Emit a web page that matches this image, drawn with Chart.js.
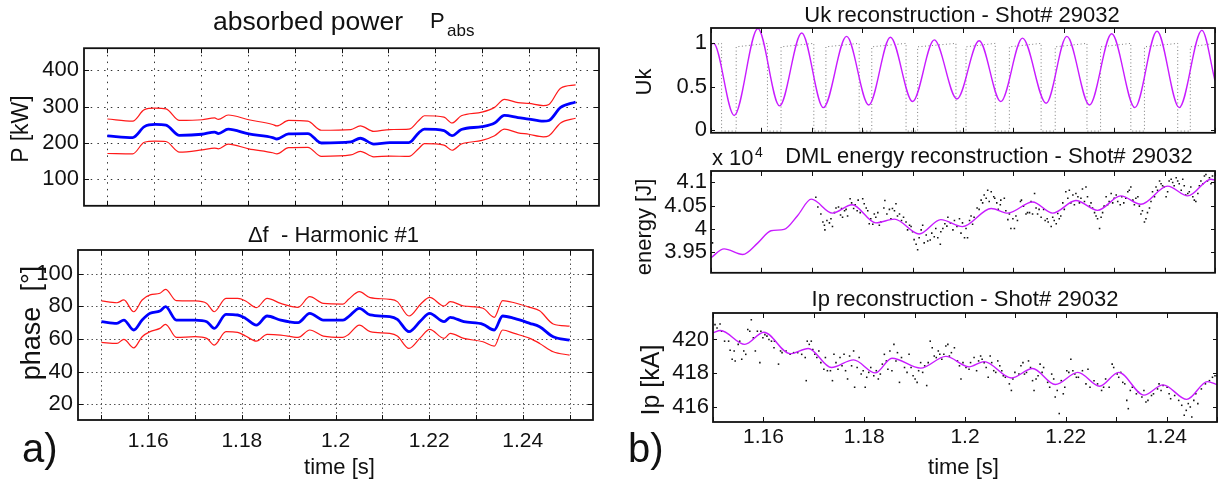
<!DOCTYPE html>
<html>
<head>
<meta charset="utf-8">
<script src="https://cdn.jsdelivr.net/npm/chart.js@4.4.1/dist/chart.umd.min.js"></script>
<style>
  html, body { margin: 0; padding: 0; background: #fff; }
  body { width: 1224px; height: 483px; position: relative; overflow: hidden;
         font-family: "Liberation Sans", Arial, sans-serif; color: #111; }
  canvas { position: absolute; }
  .txt { position: absolute; line-height: 1; white-space: nowrap; }
  .c { transform: translateX(-50%); }
  .rot { position: absolute; line-height: 1; white-space: nowrap; transform: translate(-50%, -50%) rotate(-90deg); }
</style>
</head>
<body>
<canvas id="power" width="612" height="194" style="left:0;top:30px"></canvas>
<canvas id="phase" width="612" height="244" style="left:0;top:226px"></canvas>
<canvas id="uk" width="609" height="140" style="left:615px;top:10px"></canvas>
<canvas id="energy" width="609" height="140" style="left:615px;top:150px"></canvas>
<canvas id="ip" width="609" height="170" style="left:615px;top:292px"></canvas>

<div class="txt" style="left:213px;top:7.6px;font-size:26.5px">absorbed power</div>
<div class="txt" style="left:430px;top:10.4px;font-size:22px">P</div>
<div class="txt" style="left:447px;top:21.6px;font-size:17px">abs</div>
<div class="txt c" style="left:333.5px;top:224.4px;font-size:22px">&Delta;f&nbsp;&nbsp;- Harmonic #1</div>
<div class="txt c" style="left:339.5px;top:456.4px;font-size:22px">time [s]</div>
<div class="txt" style="left:22px;top:428px;font-size:40px">a)</div>
<div class="rot" style="left:19.5px;top:129px;font-size:23px">P [kW]</div>
<div class="rot" style="left:31px;top:323px;font-size:27px">phase&nbsp;&nbsp;[&deg;]</div>

<div class="txt c" style="left:962px;top:4.4px;font-size:22px">Uk reconstruction - Shot# 29032</div>
<div class="txt" style="left:712px;top:147.4px;font-size:22px">x 10</div>
<div class="txt" style="left:755px;top:145px;font-size:14px">4</div>
<div class="txt c" style="left:989px;top:145.4px;font-size:22px">DML energy reconstruction - Shot# 29032</div>
<div class="txt c" style="left:965px;top:288.4px;font-size:22px">Ip reconstruction - Shot# 29032</div>
<div class="txt c" style="left:963.5px;top:456.4px;font-size:22px">time [s]</div>
<div class="txt" style="left:628px;top:428px;font-size:40px">b)</div>
<div class="rot" style="left:644px;top:81.5px;font-size:22px">Uk</div>
<div class="rot" style="left:644px;top:226.5px;font-size:22px">energy [J]</div>
<div class="rot" style="left:650px;top:380px;font-size:25px">Ip [kA]</div>

<script>
// ---- tick values ----
const timeTicks = [1.15, 1.16, 1.17, 1.18, 1.19, 1.2, 1.21, 1.22, 1.23, 1.24, 1.25];
const timeLabels = [1.16, 1.18, 1.2, 1.22, 1.24];
const powerTicks = [100, 200, 300, 400];
const phaseTicks = [20, 40, 60, 80, 100];
const ukTicks = [0, 0.5, 1];
const energyTicks = [3.95, 4, 4.05, 4.1];
const ipTicks = [416, 418, 420];

// ---- a) absorbed power [kW] ----
const powerTime  = [1.1500, 1.1554, 1.1579, 1.1602, 1.1625, 1.1654, 1.1702, 1.1729, 1.1737, 1.1758, 1.1802, 1.1853, 1.1862, 1.1887, 1.1928, 1.1957, 1.2020, 1.2040, 1.2069, 1.2103, 1.2144, 1.2165, 1.2177, 1.2219, 1.2236, 1.2256, 1.2300, 1.2327, 1.2348, 1.2377, 1.2400, 1.2431, 1.2443, 1.2468, 1.2500];
const powerMid   = [219.5, 215, 245, 251, 249, 221, 224, 230, 226, 238, 225, 215, 211, 225, 226, 200, 203, 213, 197, 201, 201, 228, 238, 234, 220, 237, 245, 255, 276, 270, 266, 260, 262, 298, 313];
const powerUpper = [266, 260, 292, 296, 294, 262, 264, 269, 265, 277, 264, 251, 247, 262, 260, 235, 237, 247, 232, 237, 238, 262, 275, 271, 255, 275, 285, 298, 320, 311, 309, 303, 306, 351, 360];
const powerLower = [171, 170, 202, 205, 204, 175, 181, 186, 184, 197, 184, 173, 170, 187, 188, 163, 167, 177, 162, 164, 163, 185, 198, 194, 180, 197, 207, 220, 238, 228, 224, 217, 220, 255, 268];

// ---- a) phase, harmonic #1 [deg] ----
const phaseTime  = [1.1500, 1.1533, 1.1548, 1.1569, 1.1587, 1.1604, 1.1625, 1.1637, 1.1660, 1.1700, 1.1725, 1.1741, 1.1766, 1.1791, 1.1808, 1.1831, 1.1854, 1.1883, 1.1920, 1.1945, 1.1974, 1.2016, 1.2028, 1.2051, 1.2074, 1.2116, 1.2132, 1.2157, 1.2182, 1.2201, 1.2232, 1.2245, 1.2274, 1.2315, 1.2339, 1.2357, 1.2382, 1.2415, 1.2436, 1.2465, 1.2500];
const phaseMid   = [70.6, 69.6, 71.6, 65.5, 71.6, 75.7, 77.1, 79.8, 71.6, 71.6, 70.6, 66.5, 75.1, 74.7, 72.6, 68.5, 74.1, 71.6, 70.0, 75.7, 71.6, 71.6, 73.7, 78.8, 74.7, 73.7, 72.0, 64.5, 71.2, 75.7, 70.6, 73.3, 70.6, 69.0, 65.5, 74.1, 72.6, 69.6, 67.5, 61.4, 59.3];
const phaseUpper = [83.3, 82.2, 83.9, 76.7, 83.9, 87.0, 88.0, 90.4, 83.5, 83.3, 81.8, 76.7, 84.9, 84.9, 83.3, 79.2, 84.9, 81.8, 79.4, 85.9, 81.8, 81.4, 84.3, 89.0, 85.3, 84.3, 82.9, 74.1, 81.4, 85.5, 80.2, 82.9, 80.2, 78.8, 73.3, 83.5, 82.2, 79.4, 77.3, 69.2, 67.9];
const phaseLower = [57.9, 57.3, 59.8, 54.6, 61.4, 64.5, 66.5, 69.0, 61.0, 61.4, 60.4, 56.3, 64.5, 64.1, 61.8, 58.7, 62.8, 62.4, 61.0, 65.5, 61.8, 61.0, 62.8, 68.5, 64.5, 63.4, 61.8, 54.2, 61.0, 65.9, 60.4, 63.4, 60.4, 58.3, 55.6, 65.5, 63.4, 60.4, 57.3, 52.2, 50.1];

// ---- b) Uk reconstruction ----
const ukTime  = [1.1500, 1.1505, 1.1546, 1.1593, 1.1636, 1.1680, 1.1723, 1.1769, 1.1813, 1.1856, 1.1900, 1.1943, 1.1988, 1.2032, 1.2075, 1.2118, 1.2165, 1.2206, 1.2251, 1.2295, 1.2341, 1.2385, 1.2429, 1.2474, 1.2500];
const ukValue = [0.99, 1.00, 0.17, 1.17, 0.28, 1.12, 0.26, 1.08, 0.29, 1.07, 0.33, 1.04, 0.36, 1.03, 0.33, 1.06, 0.31, 1.08, 0.29, 1.11, 0.26, 1.14, 0.26, 1.15, 0.57];
// measured Uk (dotted, switching signal)
const ukRawTime = [1.1500,
  1.1521, 1.1521, 1.1550, 1.1550,
  1.1612, 1.1612, 1.1639, 1.1639,
  1.1704, 1.1704, 1.1728, 1.1728,
  1.1794, 1.1794, 1.1819, 1.1819,
  1.1887, 1.1887, 1.1910, 1.1910,
  1.1986, 1.1986, 1.2006, 1.2006,
  1.2064, 1.2064, 1.2092, 1.2092,
  1.2155, 1.2155, 1.2183, 1.2183,
  1.2246, 1.2246, 1.2273, 1.2273,
  1.2333, 1.2333, 1.2360, 1.2360,
  1.2426, 1.2426, 1.2451, 1.2451,
  1.2500];
const ukRawValue = [0.98,
  1.0, -0.01, -0.01, 0.96,
  1.0, -0.01, -0.01, 0.96,
  1.0, -0.01, -0.01, 0.96,
  1.0, -0.01, -0.01, 0.96,
  1.0, -0.01, -0.01, 0.96,
  1.0, -0.01, -0.01, 0.96,
  1.0, -0.01, -0.01, 0.96,
  1.0, -0.01, -0.01, 0.96,
  1.0, -0.01, -0.01, 0.96,
  1.0, -0.01, -0.01, 0.96,
  1.0, -0.01, -0.01, 0.96,
  1.0];

// ---- b) DML energy [x 10^4 J] ----
const energyTime  = [1.1500, 1.1526, 1.1563, 1.1593, 1.1619, 1.1645, 1.1672, 1.1699, 1.1741, 1.1780, 1.1827, 1.1864, 1.1913, 1.1956, 1.1999, 1.2056, 1.2089, 1.2138, 1.2178, 1.2224, 1.2267, 1.2313, 1.2353, 1.2406, 1.2446, 1.2492, 1.2500];
const energyValue = [3.938, 3.957, 3.945, 3.970, 3.996, 3.999, 4.029, 4.064, 4.034, 4.052, 4.013, 4.021, 3.989, 4.020, 4.005, 4.044, 4.034, 4.058, 4.034, 4.061, 4.040, 4.071, 4.053, 4.092, 4.071, 4.107, 4.105];
const energyDotTime = [1.1503,
  1.1708, 1.1712, 1.1718, 1.1722, 1.1725, 1.1726, 1.1730, 1.1735, 1.1738, 1.1741, 1.1745, 1.1748, 1.1753, 1.1757, 1.1759,
  1.1761, 1.1765, 1.1768, 1.1771, 1.1776, 1.1779, 1.1783, 1.1786, 1.1790, 1.1792, 1.1796, 1.1801, 1.1804, 1.1808, 1.1811,
  1.1814, 1.1817, 1.1821, 1.1824, 1.1827, 1.1831, 1.1834, 1.1837, 1.1843, 1.1845, 1.1849, 1.1854, 1.1857, 1.1860, 1.1864,
  1.1867, 1.1870, 1.1874, 1.1878, 1.1882, 1.1887, 1.1890, 1.1894, 1.1897, 1.1900, 1.1903, 1.1907, 1.1910, 1.1913, 1.1917,
  1.1920, 1.1923, 1.1927, 1.1930, 1.1935, 1.1938, 1.1943, 1.1946, 1.1950, 1.1955, 1.1956, 1.1960, 1.1964, 1.1968, 1.1970,
  1.1975, 1.1980, 1.1983, 1.1988, 1.1993, 1.1996, 1.1999, 1.2003, 1.2006, 1.2009, 1.2013, 1.2016, 1.2019, 1.2022,
  1.2028, 1.2032, 1.2036, 1.2039, 1.2042, 1.2046, 1.2049, 1.2052, 1.2056, 1.2061, 1.2063, 1.2067, 1.2070, 1.2074, 1.2075,
  1.2082, 1.2085, 1.2089, 1.2092, 1.2095, 1.2099, 1.2102, 1.2105, 1.2108, 1.2114, 1.2116, 1.2120, 1.2125, 1.2128,
  1.2132, 1.2135, 1.2138, 1.2142, 1.2145, 1.2148, 1.2151, 1.2155, 1.2160, 1.2163, 1.2167, 1.2169, 1.2175, 1.2178, 1.2181,
  1.2185, 1.2188, 1.2191, 1.2194, 1.2198, 1.2201, 1.2204, 1.2208, 1.2211, 1.2214, 1.2218, 1.2221, 1.2224, 1.2228, 1.2231, 1.2234,
  1.2237, 1.2241, 1.2244, 1.2247, 1.2251, 1.2254, 1.2257, 1.2261, 1.2264, 1.2267, 1.2271, 1.2274, 1.2277, 1.2280, 1.2284, 1.2287,
  1.2290, 1.2294, 1.2297, 1.2300, 1.2304, 1.2307, 1.2312, 1.2315, 1.2319, 1.2323, 1.2327, 1.2330, 1.2333, 1.2337, 1.2340,
  1.2343, 1.2347, 1.2350, 1.2353, 1.2356, 1.2360, 1.2363, 1.2366, 1.2370, 1.2373, 1.2376, 1.2380, 1.2383, 1.2386, 1.2390, 1.2393,
  1.2396, 1.2399, 1.2403, 1.2406, 1.2409, 1.2413, 1.2416, 1.2419, 1.2423, 1.2426, 1.2429, 1.2433, 1.2436, 1.2439, 1.2442, 1.2446,
  1.2449, 1.2452, 1.2456, 1.2459, 1.2462, 1.2466, 1.2469, 1.2472, 1.2476, 1.2479, 1.2482, 1.2485, 1.2489, 1.2492, 1.2495, 1.2499];
const energyDotValue = [3.970,
  4.068, 4.047, 4.032, 4.015, 4.008, 3.998, 4.018, 4.013, 4.022, 4.005, 4.035, 4.045, 4.047, 4.030, 4.044,
  4.025, 4.039, 4.042, 4.028, 4.065, 4.056, 4.044, 4.052, 4.039, 4.062, 4.035, 4.065, 4.054, 4.045, 4.039,
  4.011, 4.022, 4.010, 4.032, 4.025, 4.035, 4.008, 4.015, 4.045, 4.061, 4.032, 4.042, 4.022, 4.044, 4.039,
  4.054, 4.028, 4.032, 4.018, 4.025, 4.015, 3.998, 4.008, 4.005, 3.994, 3.977, 3.967, 3.955, 3.981, 3.998,
  4.008, 3.970, 3.987, 3.974, 3.976, 3.991, 3.983, 4.001, 3.981, 3.967, 3.994, 4.001, 4.011, 4.006, 4.025,
  4.013, 3.998, 4.018, 4.005, 4.022, 3.991, 4.013, 3.981, 4.001, 3.981, 4.018, 4.028, 4.010, 4.025,
  4.045, 4.042, 4.062, 4.056, 4.073, 4.066, 4.083, 4.059, 4.080, 4.069, 4.066, 4.056, 4.042, 4.052, 4.062,
  4.066, 4.039, 4.020, 4.032, 4.001, 4.022, 4.001, 4.028, 4.018, 4.059, 4.062, 4.049, 4.032, 4.035,
  4.035, 4.059, 4.032, 4.076, 4.045, 4.032, 4.042, 4.025, 4.042, 4.018, 4.022, 4.015, 4.005, 4.025, 4.018,
  4.011, 4.033, 4.022, 4.028, 4.056, 4.042, 4.080, 4.066, 4.083, 4.056, 4.073, 4.052, 4.076, 4.069, 4.056, 4.066,
  4.086, 4.059, 4.090, 4.069, 4.049, 4.056, 4.045, 4.035, 4.028, 4.022, 4.001, 4.025, 4.035, 4.049, 4.069, 4.052,
  4.059, 4.076, 4.056, 4.066, 4.073, 4.059, 4.052, 4.069, 4.056, 4.066, 4.080, 4.083, 4.090, 4.062, 4.052,
  4.066, 4.069, 4.049, 4.032, 4.039, 4.015, 4.022, 4.035, 4.045, 4.059, 4.080, 4.069, 4.090, 4.083, 4.103, 4.097,
  4.093, 4.090, 4.069, 4.080, 4.103, 4.107, 4.100, 4.093, 4.110, 4.103, 4.097, 4.083, 4.107, 4.093, 4.073, 4.076,
  4.080, 4.090, 4.069, 4.062, 4.059, 4.076, 4.093, 4.103, 4.097, 4.114, 4.117, 4.103, 4.110, 4.097, 4.114, 4.100];

// ---- b) plasma current Ip [kA] ----
const ipTime  = [1.1500, 1.1515, 1.1563, 1.1601, 1.1653, 1.1689, 1.1735, 1.1779, 1.1822, 1.1855, 1.1912, 1.1962, 1.2008, 1.2038, 1.2092, 1.2134, 1.2179, 1.2224, 1.2267, 1.2305, 1.2355, 1.2393, 1.2440, 1.2481, 1.2500];
const ipValue = [420.39, 420.53, 419.71, 420.43, 419.16, 419.47, 418.34, 418.79, 418.02, 418.89, 418.30, 419.00, 418.38, 418.69, 417.72, 418.28, 417.33, 418.05, 417.23, 418.05, 416.70, 417.31, 416.45, 417.50, 417.33];
const ipDotTime = [
  1.1504, 1.1508, 1.1514, 1.1517, 1.1523, 1.1531, 1.1534, 1.1538, 1.1542, 1.1544, 1.1550, 1.1553, 1.1557, 1.1561, 1.1565,
  1.1569, 1.1573, 1.1576, 1.1580, 1.1584, 1.1588, 1.1593, 1.1595, 1.1599, 1.1603, 1.1607, 1.1611, 1.1616, 1.1621, 1.1622,
  1.1630, 1.1634, 1.1637, 1.1645, 1.1653, 1.1660, 1.1668, 1.1676, 1.1683, 1.1685, 1.1687, 1.1691, 1.1695, 1.1698, 1.1702,
  1.1706, 1.1710, 1.1714, 1.1720, 1.1723, 1.1727, 1.1733, 1.1737, 1.1740, 1.1744, 1.1748, 1.1752, 1.1756, 1.1760,
  1.1763, 1.1767, 1.1771, 1.1775, 1.1779, 1.1781, 1.1786, 1.1790, 1.1794, 1.1798, 1.1802, 1.1805, 1.1809, 1.1813, 1.1819,
  1.1824, 1.1828, 1.1832, 1.1836, 1.1840, 1.1844, 1.1847, 1.1851, 1.1855, 1.1859, 1.1863, 1.1866, 1.1870, 1.1874, 1.1880,
  1.1885, 1.1889, 1.1893, 1.1897, 1.1901, 1.1905, 1.1908, 1.1912, 1.1916, 1.1920, 1.1924, 1.1927, 1.1931, 1.1935, 1.1939,
  1.1943, 1.1947, 1.1950, 1.1954, 1.1958, 1.1962, 1.1966, 1.1969, 1.1973, 1.1979, 1.1985, 1.1989, 1.1992, 1.1996, 1.2002,
  1.2008, 1.2011, 1.2018, 1.2023, 1.2027, 1.2031, 1.2034, 1.2038, 1.2042, 1.2046, 1.2050, 1.2053, 1.2057, 1.2061, 1.2065,
  1.2069, 1.2073, 1.2076, 1.2080, 1.2088, 1.2092, 1.2095, 1.2099, 1.2107, 1.2111, 1.2115, 1.2118, 1.2122, 1.2126,
  1.2130, 1.2134, 1.2137, 1.2141, 1.2145, 1.2149, 1.2153, 1.2156, 1.2164, 1.2168, 1.2172, 1.2176, 1.2179, 1.2183, 1.2187,
  1.2191, 1.2195, 1.2198, 1.2202, 1.2206, 1.2210, 1.2214, 1.2218, 1.2221, 1.2225, 1.2233, 1.2240, 1.2244, 1.2248,
  1.2256, 1.2263, 1.2271, 1.2275, 1.2279, 1.2286, 1.2292, 1.2295, 1.2302, 1.2305, 1.2309,
  1.2313, 1.2317, 1.2321, 1.2324, 1.2328, 1.2332, 1.2340, 1.2344, 1.2351, 1.2355, 1.2359, 1.2363, 1.2370,
  1.2374, 1.2382, 1.2385, 1.2389, 1.2393, 1.2401, 1.2405, 1.2408, 1.2416, 1.2424, 1.2430, 1.2435, 1.2439,
  1.2443, 1.2447, 1.2450, 1.2454, 1.2458, 1.2462, 1.2469, 1.2477, 1.2485, 1.2491, 1.2496, 1.2500];
const ipDotValue = [
  420.88, 420.68, 420.92, 420.49, 419.90, 419.90, 419.36, 418.83, 419.32, 418.73, 419.71, 419.90, 418.83, 419.32, 419.12,
  420.59, 420.49, 421.17, 420.10, 419.32, 420.49, 418.63, 420.49, 420.10, 420.29, 420.20, 420.00, 419.90, 419.51, 419.90,
  418.54, 419.32, 419.22, 419.32, 419.12, 419.22, 419.22, 419.12, 418.93, 417.56, 419.90, 419.71, 419.90, 419.41, 419.12,
  418.93, 419.32, 418.63, 418.24, 418.93, 418.15, 418.15, 417.56, 419.12, 418.63, 418.24, 418.93, 418.44, 419.12,
  418.15, 417.66, 419.02, 418.44, 419.32, 417.17, 418.34, 418.93, 417.95, 418.15, 417.17, 417.76, 418.05, 418.34, 417.85,
  418.15, 417.66, 417.95, 418.54, 419.12, 418.73, 418.24, 419.32, 418.15, 419.71, 418.73, 419.22, 417.46, 418.93, 418.34,
  418.05, 419.12, 418.34, 417.85, 417.66, 417.46, 418.15, 418.63, 418.05, 418.44, 417.27, 418.63, 419.90, 419.51, 419.02,
  418.93, 419.32, 419.12, 418.83, 419.12, 419.61, 419.71, 419.02, 419.22, 419.51, 418.73, 418.44, 417.66, 418.63, 418.34,
  418.24, 418.63, 418.93, 418.15, 418.73, 419.02, 418.83, 418.63, 418.34, 417.76, 419.02, 418.63, 418.15, 418.05, 418.73,
  418.44, 418.15, 417.85, 417.76, 417.37, 416.98, 417.66, 418.05, 417.95, 418.44, 418.63, 417.95, 418.05, 418.73,
  418.34, 417.56, 416.98, 417.66, 417.85, 418.54, 418.05, 418.34, 417.46, 417.17, 417.95, 417.66, 416.59, 416.98, 415.61,
  417.56, 416.78, 417.17, 418.15, 418.05, 418.83, 418.15, 417.95, 417.76, 417.76, 418.15, 417.37, 418.24, 417.17,
  417.56, 417.37, 416.98, 417.17, 417.66, 417.17, 418.54, 418.34, 417.95, 417.76, 418.05,
  417.46, 417.37, 416.39, 415.90, 416.98, 417.17, 416.78, 416.88, 416.59, 416.98, 416.29, 416.39, 416.68,
  416.78, 417.07, 417.37, 416.98, 417.27, 417.17, 416.78, 416.49, 416.68, 416.39, 416.10, 415.51, 415.80,
  416.20, 416.00, 415.41, 416.39, 416.78, 416.20, 417.07, 417.37, 417.56, 417.76, 417.85, 417.85];

// ---- drawing ----
const FONT = '"Liberation Sans", Arial, sans-serif';
const INK = '#111';
const BLUE = '#0000ff';
const RED = '#ff1a1a';
const MAGENTA = '#c81cff';

function fmt(v) { return String(Math.round(v * 1000) / 1000); }
function timeLabel(v) { return timeLabels.some(t => Math.abs(t - v) < 1e-6) ? fmt(v) : ''; }
function pts(xs, ys) { return xs.map((x, i) => ({ x: x, y: ys[i] })); }

function lineSet(xs, ys, color, width, extra) {
  return Object.assign({
    data: pts(xs, ys), borderColor: color, borderWidth: width,
    pointRadius: 0, fill: false, tension: 0
  }, extra || {});
}
function smoothSet(xs, ys, color, width) {
  return lineSet(xs, ys, color, width, { cubicInterpolationMode: 'monotone' });
}
function dotSet(xs, ys) {
  return {
    data: pts(xs, ys), showLine: false, pointStyle: 'rect', pointRadius: 1.1,
    pointBackgroundColor: INK, pointBorderWidth: 0
  };
}

// grid, box and inward ticks the way the original axes have them
const framePlugin = {
  id: 'frame',
  beforeDatasetsDraw(chart, args, o) {
    if (!o.gridDash) return;
    const { ctx, chartArea: a, scales } = chart;
    ctx.save();
    ctx.strokeStyle = o.gridColor;
    ctx.lineWidth = 1;
    ctx.setLineDash(o.gridDash);
    ctx.beginPath();
    scales.x.ticks.forEach(t => {
      const p = Math.round(scales.x.getPixelForValue(t.value)) + 0.5;
      ctx.moveTo(p, a.top); ctx.lineTo(p, a.bottom);
    });
    scales.y.ticks.forEach(t => {
      const p = Math.round(scales.y.getPixelForValue(t.value)) + 0.5;
      ctx.moveTo(a.left, p); ctx.lineTo(a.right, p);
    });
    ctx.stroke();
    ctx.restore();
  },
  afterDatasetsDraw(chart, args, o) {
    const { ctx, chartArea: a, scales } = chart;
    ctx.save();
    ctx.strokeStyle = INK;
    ctx.lineWidth = 1;
    ctx.beginPath();
    scales.x.ticks.forEach(t => {
      const p = Math.round(scales.x.getPixelForValue(t.value)) + 0.5;
      ctx.moveTo(p, a.bottom); ctx.lineTo(p, a.bottom - o.xTick);
      ctx.moveTo(p, a.top); ctx.lineTo(p, a.top + o.xTick);
    });
    scales.y.ticks.forEach(t => {
      const p = Math.round(scales.y.getPixelForValue(t.value)) + 0.5;
      ctx.moveTo(a.left, p); ctx.lineTo(a.left + o.yTick, p);
      ctx.moveTo(a.right, p); ctx.lineTo(a.right - o.yTick, p);
    });
    ctx.stroke();
    ctx.lineWidth = 1.8;
    ctx.strokeRect(a.left, a.top, a.right - a.left, a.bottom - a.top);
    ctx.restore();
  }
};

// p: { datasets, xMin, xMax, yMin, yMax, yTicks, box:[top,right,bottom,left], xLabels, xPad, yPad, xFont, yFont, frame }
function makePanel(id, p) {
  return new Chart(document.getElementById(id), {
    type: 'line',
    data: { datasets: p.datasets },
    options: {
      responsive: false, animation: false, events: [], devicePixelRatio: 1,
      layout: { padding: { top: p.box[0], right: p.box[1], bottom: 0, left: 0 } },
      plugins: { legend: { display: false }, tooltip: { enabled: false }, frame: p.frame },
      scales: {
        x: {
          type: 'linear', min: p.xMin, max: p.xMax,
          afterBuildTicks: s => { s.ticks = timeTicks.map(v => ({ value: v })); },
          afterFit: s => { s.height = p.box[2]; },
          grid: { display: false, drawTicks: false }, border: { display: false },
          ticks: { display: p.xLabels, autoSkip: false, maxRotation: 0, minRotation: 0,
                   padding: p.xPad, color: INK, font: { family: FONT, size: p.xFont },
                   callback: v => timeLabel(v) }
        },
        y: {
          type: 'linear', min: p.yMin, max: p.yMax,
          afterBuildTicks: s => { s.ticks = p.yTicks.map(v => ({ value: v })); },
          afterFit: s => { s.width = p.box[3]; },
          grid: { display: false, drawTicks: false }, border: { display: false },
          ticks: { autoSkip: false, padding: p.yPad, color: INK, font: { family: FONT, size: p.yFont },
                   callback: v => fmt(v) }
        }
      }
    },
    plugins: [framePlugin]
  });
}

makePanel('power', {
  datasets: [
    smoothSet(powerTime, powerMid, BLUE, 2.8),
    smoothSet(powerTime, powerUpper, RED, 1.2),
    smoothSet(powerTime, powerLower, RED, 1.2)
  ],
  xMin: 1.145, xMax: 1.255, yMin: 27, yMax: 461, yTicks: powerTicks,
  box: [12, 13, 12, 84], xLabels: false, xPad: 9, yPad: 5, xFont: 21, yFont: 22,
  frame: { gridDash: [1.5, 5.2], gridColor: '#333', xTick: 5, yTick: 5 }
});

makePanel('phase', {
  datasets: [
    smoothSet(phaseTime, phaseMid, BLUE, 2.8),
    smoothSet(phaseTime, phaseUpper, RED, 1.2),
    smoothSet(phaseTime, phaseLower, RED, 1.2)
  ],
  xMin: 1.145, xMax: 1.255, yMin: 10.4, yMax: 114.5, yTicks: phaseTicks,
  box: [24, 19, 50, 78], xLabels: true, xPad: 9, yPad: 5, xFont: 21, yFont: 22,
  frame: { gridDash: [1.5, 3], gridColor: '#555', xTick: 5, yTick: 5 }
});

makePanel('uk', {
  datasets: [
    smoothSet(ukTime, ukValue, MAGENTA, 1.4),
    lineSet(ukRawTime, ukRawValue, '#7a7a7a', 1, { borderDash: [1, 2.5] })
  ],
  xMin: 1.15, xMax: 1.25, yMin: -0.03, yMax: 1.177, yTicks: ukTicks,
  box: [18, 9, 13, 96], xLabels: false, xPad: 3, yPad: 4, xFont: 21, yFont: 22,
  frame: { xTick: 5, yTick: 4 }
});

makePanel('energy', {
  datasets: [
    smoothSet(energyTime, energyValue, MAGENTA, 1.4),
    dotSet(energyDotTime, energyDotValue)
  ],
  xMin: 1.15, xMax: 1.25, yMin: 3.9056, yMax: 4.1246, yTicks: energyTicks,
  box: [21, 9, 12, 96], xLabels: false, xPad: 3, yPad: 4, xFont: 21, yFont: 22,
  frame: { xTick: 5, yTick: 4 }
});

makePanel('ip', {
  datasets: [
    smoothSet(ipTime, ipValue, MAGENTA, 1.4),
    dotSet(ipDotTime, ipDotValue)
  ],
  xMin: 1.15, xMax: 1.25, yMin: 415.11, yMax: 421.57, yTicks: ipTicks,
  box: [21, 7, 40, 98], xLabels: true, xPad: 3, yPad: 4, xFont: 21, yFont: 22,
  frame: { xTick: 5, yTick: 4 }
});
</script>
</body>
</html>
